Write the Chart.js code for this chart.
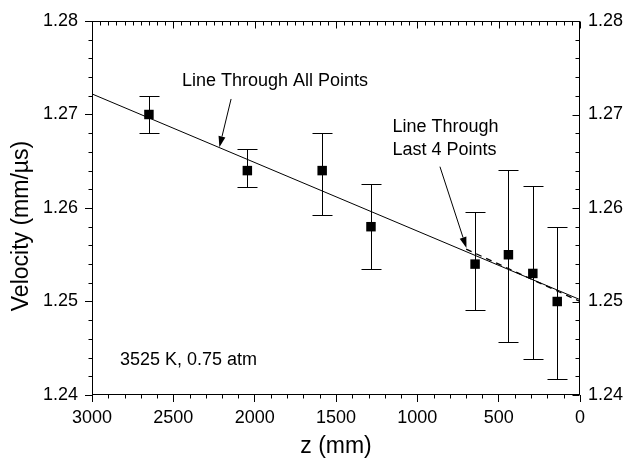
<!DOCTYPE html>
<html><head><meta charset="utf-8">
<script src="https://cdn.jsdelivr.net/npm/chart.js@4/dist/chart.umd.min.js"></script>
<style>html,body{margin:0;padding:0;background:#fff}#wrap{width:624px;height:464px}</style>
</head><body><div id="wrap"><canvas id="c" width="624" height="464"></canvas></div>
<script>
// ---- data ----
const zPositions = [2650, 2045, 1585, 1285, 645, 440, 290, 140];
const velocities = [1.270, 1.264, 1.264, 1.258, 1.254, 1.255, 1.253, 1.250];
const errLow  = [1.2680, 1.2622, 1.2592, 1.2535, 1.2491, 1.2457, 1.2438, 1.2417];
const errHigh = [1.2720, 1.2663, 1.2680, 1.2626, 1.2596, 1.2641, 1.2624, 1.2580];
const fitAllZ = [3000, 0];
const fitAllV = [1.2722, 1.2502];
const fitLast4Z = [700, 0];
const fitLast4V = [1.2556, 1.2500];
const xTickValues = [3000, 2500, 2000, 1500, 1000, 500, 0];
const yTickLabels = ['1.24', '1.25', '1.26', '1.27', '1.28'];

// annotation anchors (data units)
const notes = [
  {text: 'Line Through All Points', z: 2447, v: 1.27358},
  {text: 'Line Through', z: 1153, v: 1.2687},
  {text: 'Last 4 Points', z: 1153, v: 1.2662},
  {text: '3525 K, 0.75 atm', z: 2828, v: 1.24374}
];
const arrows = [
  {z1: 2145, v1: 1.27166, z2: 2217, v2: 1.26649},
  {z1: 861, v1: 1.26442, z2: 698, v2: 1.25572}
];

const FONT = '"Liberation Sans", Arial, Helvetica, sans-serif';

const decor = {
  id: 'decor',
  beforeDatasetsDraw(chart) {
    const {ctx} = chart;
    const x = chart.scales.x, y = chart.scales.y;
    ctx.save();
    ctx.strokeStyle = '#000';
    ctx.lineWidth = 1;
    for (let i = 0; i < zPositions.length; i++) {
      const px = Math.round(x.getPixelForValue(zPositions[i])) + 0.5;
      const p1 = Math.round(y.getPixelForValue(errLow[i])) + 0.5;
      const p2 = Math.round(y.getPixelForValue(errHigh[i])) + 0.5;
      ctx.beginPath();
      ctx.moveTo(px, p1); ctx.lineTo(px, p2);
      ctx.moveTo(px - 10, p1); ctx.lineTo(px + 10, p1);
      ctx.moveTo(px - 10, p2); ctx.lineTo(px + 10, p2);
      ctx.stroke();
    }
    ctx.restore();
  },
  afterDraw(chart) {
    const {ctx, chartArea: a} = chart;
    const x = chart.scales.x, y = chart.scales.y;
    ctx.save();
    ctx.strokeStyle = '#000';
    ctx.fillStyle = '#000';
    ctx.lineWidth = 1;
    const L = Math.round(a.left) + 0.5, R = Math.round(a.right) - 0.5;
    const T = Math.round(a.top) + 0.5, B = Math.round(a.bottom) - 0.5;
    ctx.strokeRect(L, T, R - L, B - T);
    ctx.beginPath();
    // bottom minor ticks (outward), top ticks (inward)
    for (let z = 0; z <= 3000; z += 50) {
      const px = Math.round(x.getPixelForValue(z)) + 0.5;
      const major = z % 500 === 0;
      if (z % 100 === 0 && !major) { ctx.moveTo(px, B); ctx.lineTo(px, B + 4); }
      ctx.moveTo(px, T); ctx.lineTo(px, T + (major ? 7 : 4));
    }
    // y ticks
    for (let k = 0; k <= 20; k++) {
      const v = 1.24 + k * 0.002;
      const py = Math.round(y.getPixelForValue(v)) + 0.5;
      const major = k % 5 === 0;
      if (!major) { ctx.moveTo(L, py); ctx.lineTo(L - 4, py); }
      ctx.moveTo(R, py); ctx.lineTo(R - (major ? 7 : 4), py);
    }
    ctx.stroke();

    // arrows
    arrows.forEach(ar => {
      const x1 = x.getPixelForValue(ar.z1), y1 = y.getPixelForValue(ar.v1);
      const x2 = x.getPixelForValue(ar.z2), y2 = y.getPixelForValue(ar.v2);
      const ang = Math.atan2(y2 - y1, x2 - x1);
      const hl = 11, hw = 3.5;
      const bx = x2 - hl * Math.cos(ang), by = y2 - hl * Math.sin(ang);
      ctx.beginPath(); ctx.moveTo(x1, y1); ctx.lineTo(bx, by); ctx.stroke();
      ctx.beginPath();
      ctx.moveTo(x2, y2);
      ctx.lineTo(bx + hw * Math.sin(ang), by - hw * Math.cos(ang));
      ctx.lineTo(bx - hw * Math.sin(ang), by + hw * Math.cos(ang));
      ctx.closePath(); ctx.fill();
    });

    // notes
    ctx.font = '18px ' + FONT;
    ctx.textAlign = 'left';
    ctx.textBaseline = 'middle';
    notes.forEach(n => ctx.fillText(n.text, x.getPixelForValue(n.z), y.getPixelForValue(n.v)));

    // y axis title
    ctx.save();
    ctx.translate(22, 226);
    ctx.rotate(-Math.PI / 2);
    ctx.font = '23px ' + FONT;
    ctx.textAlign = 'center';
    ctx.textBaseline = 'middle';
    ctx.fillText('Velocity (mm/\u00b5s)', 0, 0);
    ctx.restore();
    ctx.restore();
  }
};

const tickFont = {family: FONT, size: 18};
const chart = new Chart(document.getElementById('c'), {
  type: 'scatter',
  data: {
    datasets: [
      {
        data: zPositions.map((z, i) => ({x: z, y: velocities[i]})),
        pointStyle: 'rect', pointRadius: 6.7, pointHoverRadius: 6.7,
        backgroundColor: '#000', borderWidth: 0, showLine: false
      },
      {
        data: fitAllZ.map((z, i) => ({x: z, y: fitAllV[i]})),
        showLine: true, pointRadius: 0, borderColor: '#000', borderWidth: 1, fill: false
      },
      {
        data: fitLast4Z.map((z, i) => ({x: z, y: fitLast4V[i]})),
        showLine: true, pointRadius: 0, borderColor: '#000', borderWidth: 1.3,
        borderDash: [6, 5], fill: false
      }
    ]
  },
  options: {
    responsive: false,
    devicePixelRatio: 1,
    animation: false,
    layout: {padding: {top: 21, left: 0, right: 0, bottom: 0}},
    plugins: {legend: {display: false}, tooltip: {enabled: false}},
    scales: {
      x: {
        type: 'linear', reverse: true, min: 0, max: 3000, position: 'bottom',
        afterBuildTicks: s => { s.ticks = xTickValues.map(v => ({value: v})); },
        ticks: {font: tickFont, color: '#000', padding: 5, maxRotation: 0, autoSkip: false,
                callback: v => String(v)},
        grid: {display: true, drawOnChartArea: false, drawTicks: true, tickLength: 7, color: '#000'},
        border: {display: false},
        title: {display: true, text: 'z (mm)', color: '#000', font: {family: FONT, size: 23},
                padding: {top: 0, bottom: 4}},
        afterFit: s => { s.height = 69; }
      },
      y: {
        type: 'linear', min: 1.24, max: 1.28, position: 'left',
        afterBuildTicks: s => { s.ticks = yTickLabels.map(t => ({value: parseFloat(t)})); },
        ticks: {font: tickFont, color: '#000', padding: 7, callback: v => v.toFixed(2)},
        grid: {display: true, drawOnChartArea: false, drawTicks: true, tickLength: 7, color: '#000'},
        border: {display: false},
        afterFit: s => { s.width = 92; }
      },
      y2: {
        type: 'linear', min: 1.24, max: 1.28, position: 'right',
        afterBuildTicks: s => { s.ticks = yTickLabels.map(t => ({value: parseFloat(t)})); },
        ticks: {font: tickFont, color: '#000', padding: 8, callback: v => v.toFixed(2)},
        grid: {display: false, drawTicks: false},
        border: {display: false},
        afterFit: s => { s.width = 44; }
      }
    }
  },
  plugins: [decor]
});
</script>
</body></html>
